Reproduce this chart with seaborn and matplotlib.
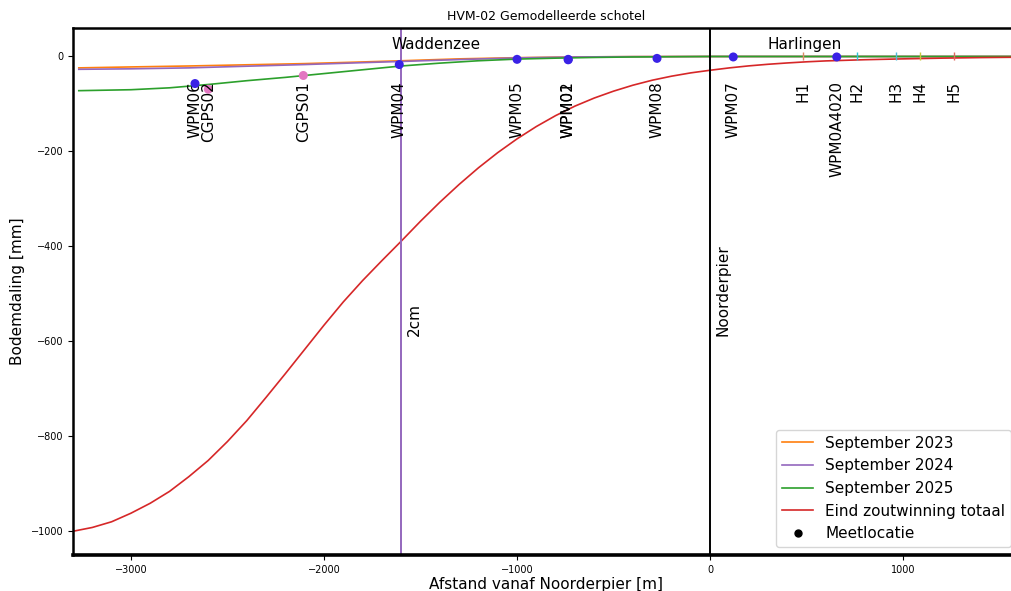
import numpy as np
import pandas as pd
import seaborn as sns
import matplotlib.pyplot as plt
from matplotlib.lines import Line2D

# Gemodelleerde bodemdaling [mm] langs het profiel, afstand in m vanaf Noorderpier
x_2023 = [-3270, -3000, -2700, -2400, -2100, -1800, -1600, -1300, -1000, -700, -400, 0, 800, 1600]
y_2023 = [-24, -22, -20, -17.5, -15, -11.5, -9, -5, -2.5, -1, -0.3, 0, 0, 0]

x_2024 = [-3270, -3000, -2700, -2400, -2100, -1800, -1600, -1300, -1000, -700, -400, 0, 800, 1600]
y_2024 = [-27, -26, -24, -20.5, -17, -13, -10.5, -6.5, -3, -1, -0.3, 0, 0, 0]

x_2025 = [-3270, -3000, -2800, -2600, -2400, -2200, -2000, -1800, -1600, -1400, -1200,
          -1000, -800, -600, -400, -200, 0, 500, 1600]
y_2025 = [-72, -70, -66, -59, -51, -44, -36, -28, -20, -14, -9,
          -5.5, -3.5, -2, -1, -0.5, 0, 0, 0]

x_eind = [-3300, -3200, -3100, -3000, -2900, -2800, -2700, -2600, -2500, -2400, -2300,
          -2200, -2100, -2000, -1900, -1800, -1700, -1600, -1500, -1400, -1300, -1200,
          -1100, -1000, -900, -800, -700, -600, -500, -400, -300, -200, -100, 0,
          100, 200, 300, 400, 500, 600, 800, 1000, 1200, 1400, 1600]
y_eind = [-1000, -992, -980, -962, -941, -916, -885, -851, -811, -767, -718,
          -668, -617, -566, -517, -472, -430, -389, -347, -307, -269.5, -234.5,
          -202.5, -173.5, -147.5, -124.5, -104.5, -87.5, -73, -60.5, -50, -41.5, -34.5, -29,
          -24, -19.8, -16.4, -13.6, -11.2, -9.3, -6.8, -5, -3.5, -2.3, -1.5]

# Meetlocaties
wpm_namen = ["WPM06", "WPM04", "WPM05", "WPM01", "WPM02", "WPM08", "WPM07", "WPM0A4020"]
wpm_x = [-2668, -1610, -1000, -735, -735, -275, 120, 656]
wpm_y = [-57, -17, -6, -7, -6, -4, -1, -1]

cgps_namen = ["CGPS02", "CGPS01"]
cgps_x = [-2599, -2107]
cgps_y = [-69, -40]

h_namen = ["H1", "H2", "H3", "H4", "H5"]
h_x = [480, 763, 962, 1088, 1261]
h_y = [0, 0, 0, 0, 0]
h_kleuren = ["#dd8a66", "#2ec4d6", "#4fbcd9", "#c9c83c", "#e06a60"]

reeksen = ["September 2023", "September 2024", "September 2025", "Eind zoutwinning totaal"]
kleuren = ["tab:orange", "tab:purple", "tab:green", "tab:red"]

curves = pd.concat([
    pd.DataFrame({"x": x_2023, "y": y_2023, "reeks": reeksen[0]}),
    pd.DataFrame({"x": x_2024, "y": y_2024, "reeks": reeksen[1]}),
    pd.DataFrame({"x": x_2025, "y": y_2025, "reeks": reeksen[2]}),
    pd.DataFrame({"x": x_eind, "y": y_eind, "reeks": reeksen[3]}),
])

fig = plt.figure(figsize=(10.11, 5.91), dpi=100)
ax = fig.add_axes([73 / 1011, 1 - 555 / 591, 946 / 1011, 527 / 591])

sns.lineplot(data=curves, x="x", y="y", hue="reeks", hue_order=reeksen,
             palette=kleuren, linewidth=1.2, sort=False, ax=ax)

# referentielijnen
ax.axvline(-1600, color="tab:purple", linewidth=1.4)
ax.axvline(0, color="black", linewidth=1.4)
ax.text(-1600 + 68, -588, "2cm", rotation=90, ha="center", va="bottom", fontsize=11)
ax.text(68, -588, "Noorderpier", rotation=90, ha="center", va="bottom", fontsize=11)
ax.text(-1420, 25, "Waddenzee", ha="center", va="center", fontsize=11)
ax.text(492, 25, "Harlingen", ha="center", va="center", fontsize=11)

# meetpunten
sns.scatterplot(x=cgps_x, y=cgps_y, color="#e377c2", s=42, edgecolor="none",
                legend=False, ax=ax, zorder=3)
sns.scatterplot(x=wpm_x, y=wpm_y, color="#3a22e6", s=42, edgecolor="none",
                legend=False, ax=ax, zorder=4)
for hx, hy, hk in zip(h_x, h_y, h_kleuren):
    sns.scatterplot(x=[hx], y=[hy], color=hk, marker="|", s=40, linewidth=1,
                    legend=False, ax=ax, zorder=3)

for naam, px in zip(wpm_namen + cgps_namen + h_namen, wpm_x + cgps_x + h_x):
    ax.text(px, -52, naam, rotation=90, ha="center", va="top", fontsize=11)

ax.set_xlim(-3300, 1600)
ax.set_ylim(-1050, 60)
ax.set_title("HVM-02 Gemodelleerde schotel", fontsize=9)
ax.set_xlabel("Afstand vanaf Noorderpier [m]", fontsize=11, labelpad=2)
ax.set_ylabel("Bodemdaling [mm]", fontsize=11)
ax.tick_params(labelsize=7)
for s in ["left", "top"]:
    ax.spines[s].set_linewidth(1.8)
ax.spines["bottom"].set_linewidth(2.6)

handles = [Line2D([], [], color=k, linewidth=1.2) for k in kleuren]
handles.append(Line2D([], [], color="black", marker="o", linestyle="none", markersize=5))
ax.legend(handles, reeksen + ["Meetlocatie"], loc="lower right", fontsize=11)

fig.savefig("out.png", dpi=100)
